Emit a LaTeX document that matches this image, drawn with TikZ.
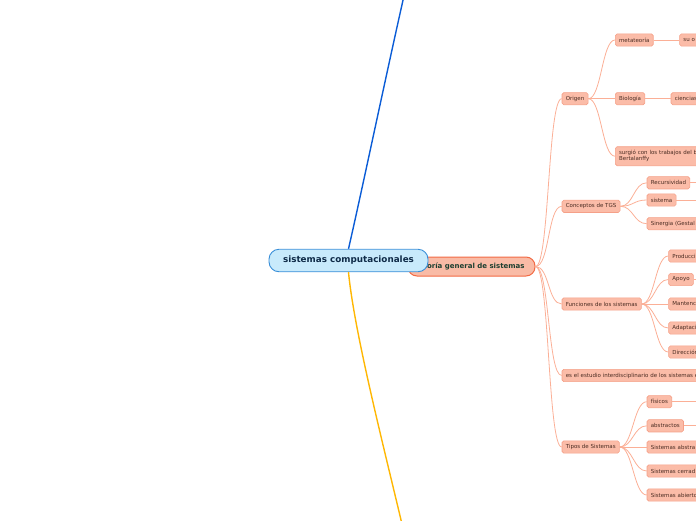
\documentclass[tikz,border=0pt]{standalone}
\usepackage{fontspec}
\setmainfont{DejaVu Sans}
\definecolor{nfill}{HTML}{FBBCA8}
\definecolor{ndraw}{HTML}{F5A088}
\definecolor{lnk}{HTML}{FBAF96}
\definecolor{tgsdraw}{HTML}{F26A44}
\definecolor{tgsfill}{HTML}{F9BBA6}
\definecolor{tgstext}{HTML}{1C3F30}
\definecolor{ntext}{HTML}{4A2C22}
\definecolor{cfill}{HTML}{C8EAFB}
\definecolor{cdraw}{HTML}{3A8FD8}
\definecolor{ctext}{HTML}{0F2B48}
\definecolor{bl}{HTML}{0A5CD6}
\definecolor{yl}{HTML}{FFB703}
\begin{document}
\begin{tikzpicture}[x=1pt,y=-1pt,
  leaf/.style={draw=ndraw, fill=nfill, line width=0.6pt, rounded corners=1.8pt,
    font=\fontsize{5.5}{6.3}\selectfont, text=ntext, inner xsep=3.8pt, inner ysep=0pt,
    minimum height=12.3pt, anchor=west},
  cutleaf/.style={leaf, align=left},
  lk/.style={draw=lnk, line width=0.8pt},
  br/.style={out=0, in=180, distance=13pt},
  tgsbox/.style={draw=tgsdraw, fill=tgsfill, line width=1pt, rounded corners=9pt,
    minimum height=19pt, minimum width=127pt, inner sep=0pt,
    font=\bfseries\fontsize{7}{8}\selectfont, text=tgstext},
  cbox/.style={draw=cdraw, fill=cfill, line width=0.9pt, rounded corners=10pt,
    minimum width=159pt, minimum height=22.5pt, inner sep=0pt,
    font=\bfseries\fontsize{8.8}{10}\selectfont, text=ctext}
]
\useasboundingbox (0,0) rectangle (696,520);
\clip (0,0) rectangle (696,520);

% main nodes
\node[tgsbox] (tgs) at (471.5,266.5) {Teoría general de sistemas};
\node[cbox] (cn) at (348.5,260.5) {sistemas computacionales};

% big branches
\coordinate (bt) at (403.5,-2);
\coordinate (yb) at (401.5,522);
\draw[bl, line width=1.4pt] (cn.north) .. controls (362,190) and (385,80) .. (bt);
\draw[yl, line width=1.4pt] (cn.south) .. controls (354,330) and (382,440) .. (yb);

% level 2
\node[leaf] (origen) at (561.7,98.7) {Origen};
\node[leaf] (conc) at (561.7,206.3) {Conceptos de TGS};
\node[leaf] (func) at (561.7,304) {Funciones de los sistemas};
\node[cutleaf, text width=150pt] (estudio) at (561.7,375.5) {es el estudio interdisciplinario de los sistemas e};
\node[leaf] (tipos) at (561.7,447) {Tipos de Sistemas};

\foreach \n in {origen,conc,func,estudio,tipos}
  \draw[lk] (tgs.east) to[br, distance=14pt] (\n.west);

% Origen children
\node[leaf] (meta) at (615,40) {metateoría};
\node[cutleaf, text width=30pt] (suo) at (679.3,40) {su o};
\node[leaf] (bio) at (615,98.7) {Biología};
\node[cutleaf, text width=40pt] (cien) at (670.7,98.7) {ciencias};
\node[cutleaf, text width=90pt, minimum height=19pt] (surg) at (615,156.2) {surgió con los trabajos del b\\[-0.6pt]Bertalanffy};
\foreach \n in {meta,bio,surg}
  \draw[lk] (origen.east) to[br] (\n.west);
\draw[lk] (meta.east) -- (suo.west);
\draw[lk] (bio.east) -- (cien.west);

% Conceptos children
\node[leaf] (rec) at (646.7,182.8) {Recursividad};
\node[leaf] (sis) at (646.7,200) {sistema};
\node[cutleaf, text width=60pt] (sin) at (646.7,223.7) {Sinergia (Gestal};
\foreach \n in {rec,sis,sin}
  \draw[lk] (conc.east) to[br] (\n.west);
\coordinate (recE) at (700,182.8);
\coordinate (sisE) at (700,200);
\draw[lk] (rec.east) -- (recE);
\draw[lk] (sis.east) -- (sisE);

% Funciones children
\node[cutleaf, text width=40pt] (prod) at (668.3,256) {Producci};
\node[leaf] (apoyo) at (668.3,279.5) {Apoyo};
\node[cutleaf, text width=40pt] (mant) at (668.3,304) {Mantenc};
\node[cutleaf, text width=40pt] (adap) at (668.3,328) {Adaptaci};
\node[cutleaf, text width=40pt] (dir) at (668.3,352) {Dirección};
\foreach \n in {prod,apoyo,mant,adap,dir}
  \draw[lk] (func.east) to[br] (\n.west);
\coordinate (apE) at (700,279.5);
\draw[lk] (apoyo.east) -- (apE);

% Tipos children
\node[leaf] (fis) at (646.7,401.7) {físicos};
\node[leaf] (abs) at (646.7,425.8) {abstractos};
\node[cutleaf, text width=60pt] (sabs) at (646.7,447) {Sistemas abstra};
\node[cutleaf, text width=60pt] (scer) at (646.7,471) {Sistemas cerrad};
\node[cutleaf, text width=60pt] (sabi) at (646.7,495) {Sistemas abierto};
\foreach \n in {fis,abs,sabs,scer,sabi}
  \draw[lk] (tipos.east) to[br] (\n.west);
\coordinate (fisE) at (700,401.7);
\coordinate (absE) at (700,425.8);
\draw[lk] (fis.east) -- (fisE);
\draw[lk] (abs.east) -- (absE);
\end{tikzpicture}
\end{document}
